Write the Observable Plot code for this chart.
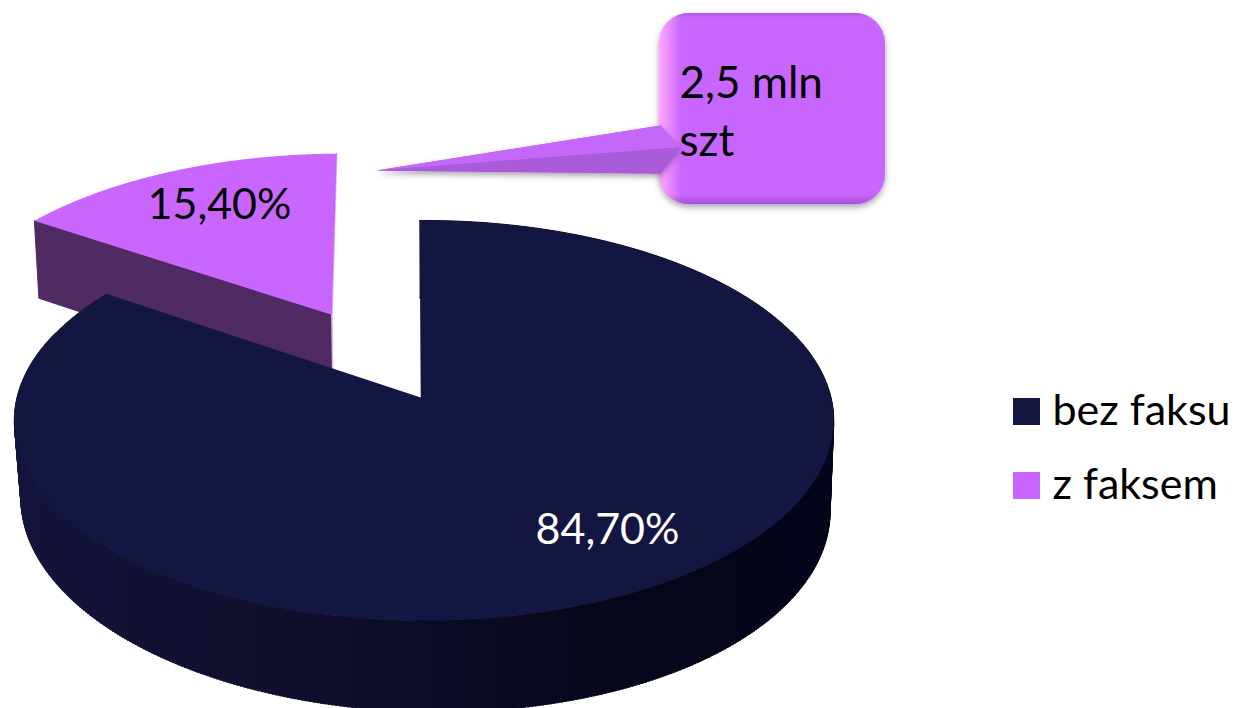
<!DOCTYPE html>
<html>
<head>
<meta charset="utf-8">
<script src="https://cdn.jsdelivr.net/npm/d3@7"></script>
<script src="https://cdn.jsdelivr.net/npm/@observablehq/plot@0.6"></script>
<style>
html,body{margin:0;padding:0;background:#fff;overflow:hidden}
svg{display:block}
</style>
</head>
<body>
<div id="chart"></div>
<script>
// ---- data ----
const categories = ["bez faksu", "z faksem"];
const shares = [84.7, 15.4];
const calloutLines = ["2,5 mln", "szt"];
const fmt = v => v.toFixed(2).replace(".", ",") + "%";

// ---- colours ----
const topColors = ["#141642", "#c966ff"];
const wallPurple = "#4f2a63";

// ---- 3D pie camera (unit-disc model → picture scale) ----
const cam = {cx: 423.5, cy: 397, a: 406.8, b: 197.4, k: 0.115, m: 0.013, c: 85, lean: 13};
const startDeg = -0.7;
const explode = 0.5;
const project = (X, s, z = 0) => {
  const w = 1 - cam.k * s + cam.m * z;
  return {
    x: cam.cx + cam.a * X / w + cam.lean * z * Math.max(0, s) / w,
    y: cam.cy + (cam.b * s + cam.c * z) / w
  };
};
const total = d3.sum(shares);
const toDeg = v => v / total * 360;
const dir = deg => { const r = deg * Math.PI / 180; return [Math.sin(r), -Math.cos(r)]; };
const arc = (d0, d1, ox, os, z) => d3.range(0, 361).map(i => {
  const [X, s] = dir(d0 + (d1 - d0) * i / 360);
  return project(ox + X, os + s, z);
});

// main slice runs clockwise from the start angle
const mainEnd = startDeg + toDeg(shares[0]);
const mainApex = project(-0.008, 0);
const mainTop = [mainApex, ...arc(startDeg, mainEnd, 0, 0, 0)];
const mainWall = [...arc(startDeg, mainEnd, 0, 0, 0), ...arc(startDeg, mainEnd, 0, 0, 1).reverse()];
// vertical rulings of the round wall, so its silhouette runs straight from rim to base
const wallRulings = d3.range(70, 290, 0.5).flatMap(deg => {
  const [X, s] = dir(deg);
  return [{...project(X, s, 0), g: deg}, {...project(X, s, 1), g: deg}];
});

// small slice is pulled out along its middle direction
const p0 = mainEnd, p1 = startDeg + 360;
const [ex, es] = dir((p0 + p1) / 2).map(v => v * explode);
const pApex = project(ex, es);
const pArc = arc(p0, p1, ex, es, 0);
const pTop = [pApex, ...pArc];
const [lx, ls] = dir(p0);
const pCut = [pApex, project(ex + lx, es + ls, 0), project(ex + lx, es + ls, 1), project(ex, es, 1)];
const [rx, rs] = dir(p1);
const pEdge = [project(ex + rx, es + rs, 0), pApex, project(ex, es, 1)];

// ---- layout (picture pixels) ----
const sliceLabels = [
  {text: fmt(shares[1]), x: 219, y: 205, fill: "#000"},
  {text: fmt(shares[0]), x: 607, y: 530, fill: "#fff"}
];
const box = [{x1: 659, x2: 885, y1: 13, y2: 204}];
const pointerUpper = [{x: 376, y: 170}, {x: 660, y: 125}, {x: 679, y: 147}];
const pointerLower = [{x: 376, y: 170}, {x: 679, y: 147}, {x: 660, y: 173}];
const pointerAll = [{x: 376, y: 170}, {x: 660, y: 125}, {x: 679, y: 147}, {x: 660, y: 173}];
const calloutText = calloutLines.map((t, i) => ({text: t, x: 679, y: 83 + i * 58}));
const legend = categories.map((t, i) => ({
  text: t, color: topColors[i], x1: 1013, x2: 1040, y1: 398 + i * 74, y2: 425 + i * 74, tx: 1052, ty: 411 + i * 74
}));
const font = "Lato, Carlito, sans-serif";

// ---- gradients ----
const NS = "http://www.w3.org/2000/svg";
const grad = (id, attrs, stops) => {
  const g = document.createElementNS(NS, "linearGradient");
  g.setAttribute("id", id);
  for (const k in attrs) g.setAttribute(k, attrs[k]);
  for (const [o, c, a] of stops) {
    const s = document.createElementNS(NS, "stop");
    s.setAttribute("offset", o); s.setAttribute("stop-color", c);
    if (a !== undefined) s.setAttribute("stop-opacity", a);
    g.appendChild(s);
  }
  return g;
};
const defs = () => {
  const d = document.createElementNS(NS, "defs");
  d.appendChild(grad("wall", {gradientUnits: "userSpaceOnUse", x1: 14, x2: 833, y1: 0, y2: 0}, [
    [0, "#14133b"], [0.25, "#11102f"], [0.5, "#0c0b28"], [0.72, "#06071a"], [1, "#04051a"]
  ]));
  d.appendChild(grad("bevelX", {x1: 0, x2: 1, y1: 0, y2: 0}, [
    [0, "#ffa8ff"], [0.1, "#c966ff"], [1, "#c966ff"]
  ]));
  d.appendChild(grad("bevelY", {x1: 0, x2: 0, y1: 0, y2: 1}, [
    [0, "#9a48cc", 0.55], [0.025, "#9a48cc", 0], [0.95, "#8a3fb8", 0], [1, "#8a3fb8", 0.55]
  ]));
  return d;
};

// ---- chart ----
const poly = (data, fill) => Plot.line(data, {x: "x", y: "y", fill, stroke: "none"});
const shadow = "drop-shadow(0 3px 3px rgba(40,10,60,.4))";
const chart = Plot.plot({
  width: 1237, height: 708,
  margin: 0,
  style: {background: "#fff", overflow: "hidden"},
  x: {domain: [0, 1237], range: [0, 1237], axis: null},
  y: {domain: [0, 708], range: [0, 708], axis: null},
  marks: [
    defs,
    // small slice
    Plot.line(pCut, {x: "x", y: "y", fill: wallPurple, stroke: wallPurple, strokeWidth: 1}),
    Plot.line(pEdge, {x: "x", y: "y", stroke: "#dcbdf2", strokeWidth: 1.6}),
    poly(pTop, topColors[1]),
    // main slice
    Plot.line(mainWall, {x: "x", y: "y", fill: "url(#wall)", stroke: "url(#wall)", strokeWidth: 1}),
    Plot.line(wallRulings, {x: "x", y: "y", z: "g", stroke: "url(#wall)", strokeWidth: 1.5}),
    poly(mainTop, topColors[0]),
    Plot.text(sliceLabels, {x: "x", y: "y", text: "text", fill: "fill", fontSize: 43, fontFamily: font}),
    // callout
    Plot.rect(box, {x1: "x1", x2: "x2", y1: "y1", y2: "y2", r: 30, fill: "url(#bevelX)", imageFilter: shadow}),
    Plot.rect(box, {x1: "x1", x2: "x2", y1: "y1", y2: "y2", r: 30, fill: "url(#bevelY)"}),
    Plot.line(pointerAll, {x: "x", y: "y", fill: "#a85ad8", stroke: "none", imageFilter: shadow}),
    poly(pointerUpper, "#c468fa"),
    poly(pointerLower, "#a95bda"),
    Plot.text(calloutText, {x: "x", y: "y", text: "text", textAnchor: "start", fill: "#000", fontSize: 44, fontFamily: font}),
    // legend
    Plot.rect(legend, {x1: "x1", x2: "x2", y1: "y1", y2: "y2", fill: "color"}),
    Plot.text(legend, {x: "tx", y: "ty", text: "text", textAnchor: "start", fill: "#000", fontSize: 43, fontFamily: font})
  ]
});
document.getElementById("chart").appendChild(chart);
</script>
</body>
</html>
